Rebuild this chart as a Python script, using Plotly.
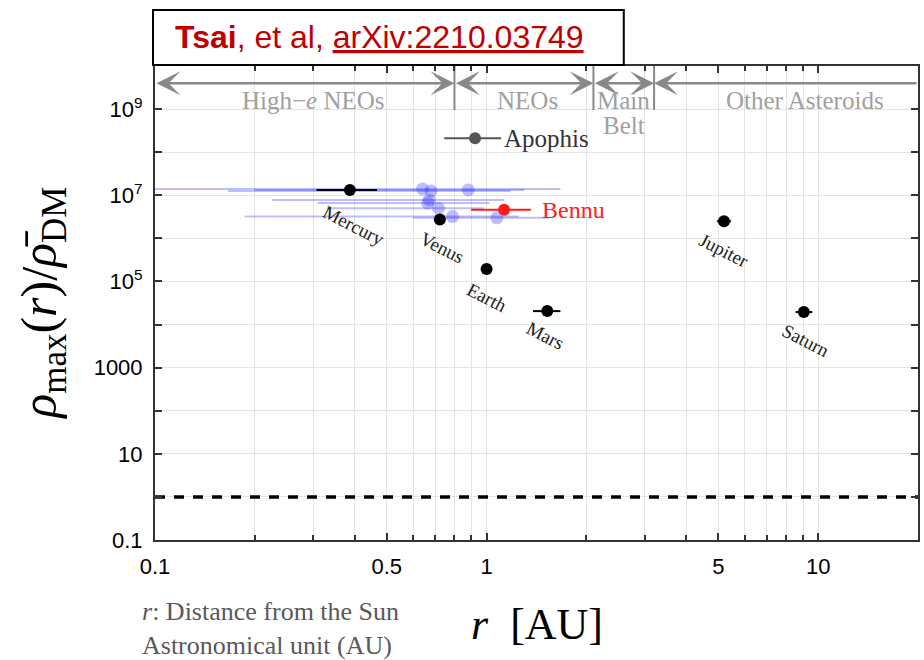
import numpy as np
import plotly.graph_objects as go

# ---------------- data ----------------
planet_names = ["Mercury", "Venus", "Earth", "Mars", "Jupiter", "Saturn"]
planet_r = [0.387, 0.723, 1.0, 1.524, 5.2, 9.05]
planet_r_min = [0.307, 0.718, 0.983, 1.38, 4.95, 8.55]
planet_r_max = [0.467, 0.728, 1.017, 1.67, 5.46, 9.6]
planet_rho = [1.32e7, 2.75e6, 1.95e5, 2.05e4, 2.5e6, 1.95e4]

neo_r = [0.641, 0.680, 0.880, 0.672, 0.664, 0.716, 0.789, 1.074]
neo_r_min = [0.09, 0.166, 0.20, 0.226, 0.309, 0.33, 0.186, 0.60]
neo_r_max = [1.67, 1.18, 1.30, 1.13, 1.02, 0.98, 1.25, 1.55]
neo_rho = [1.4e7, 1.26e7, 1.33e7, 7.8e6, 6.6e6, 5.0e6, 3.2e6, 3.0e6]

named_names = ["Bennu", "Apophis"]
named_r = [1.129, 0.923]
named_r_min = [0.898, 0.745]
named_r_max = [1.36, 1.106]
named_rho = [4.6e6, 2.1e8]

region_names = ["High\u2212<i>e</i> NEOs", "NEOs", "Main", "Other Asteroids"]
region_sublabels = ["", "", "Belt", ""]
region_edges = [0.1, 0.8, 2.1, 3.2, 20.0]
region_label_r = [0.30, 1.33, 2.59, 9.1]

dm_threshold = 1.0

x_tickvals = [0.1, 0.5, 1, 5, 10]
x_ticktext = ["0.1", "0.5", "1", "5", "10"]
x_minor = [0.2, 0.3, 0.4, 0.6, 0.7, 0.8, 0.9, 2, 3, 4, 6, 7, 8, 9, 20]
y_tickvals = [0.1, 10, 1e3, 1e5, 1e7, 1e9]
y_ticktext = ["0.1", "10", "1000", "10<sup>5</sup>", "10<sup>7</sup>", "10<sup>9</sup>"]
y_minor = [1, 100, 1e4, 1e6, 1e8, 1e10]

# ---------------- styles ----------------
SERIF = "Liberation Serif"
SANS = "Liberation Sans"
X_RANGE = [-1, np.log10(20.0)]
Y_RANGE = [-1, 10]
label_dx = [4, 2, 0, -2, 0, 2]
label_dy = [35, 28, 29, 24, 29, 28]
named_colors = ["#ff1a1a", "#555555"]
named_text_colors = ["#ff2020", "#333333"]
named_dx = [36, 27]
named_size = [24, 25]
arrow_y = 9.6          # log10 position of region arrows
region_label_y = 9.19
region_sublabel_y = 8.63

fig = go.Figure()

# dashed threshold line
fig.add_trace(go.Scatter(
    x=[region_edges[0], region_edges[-1]], y=[dm_threshold, dm_threshold],
    mode="lines", line=dict(color="black", width=3.5, dash="10px,9px"),
    hoverinfo="skip", showlegend=False))

# region boundaries
for e in region_edges[1:-1]:
    fig.add_trace(go.Scatter(
        x=[e, e], y=[10 ** 8.98, 10 ** 10], mode="lines",
        line=dict(color="#888888", width=2), hoverinfo="skip", showlegend=False))

# blue NEOs
fig.add_trace(go.Scatter(
    x=neo_r, y=neo_rho, mode="markers",
    marker=dict(color="rgba(40,40,255,0.3)", size=13, line=dict(width=0)),
    error_x=dict(type="data", symmetric=False,
                 array=[hi - r for hi, r in zip(neo_r_max, neo_r)],
                 arrayminus=[r - lo for lo, r in zip(neo_r_min, neo_r)],
                 color="rgba(40,40,255,0.3)", thickness=2, width=0),
    showlegend=False))

# named asteroids
for i in range(len(named_names)):
    fig.add_trace(go.Scatter(
        x=[named_r[i]], y=[named_rho[i]], mode="markers",
        marker=dict(color=named_colors[i], size=12),
        error_x=dict(type="data", symmetric=False,
                     array=[named_r_max[i] - named_r[i]],
                     arrayminus=[named_r[i] - named_r_min[i]],
                     color=named_colors[i], thickness=2, width=0),
        showlegend=False))
    fig.add_annotation(x=np.log10(named_r[i]), y=np.log10(named_rho[i]),
                       text=named_names[i], showarrow=False, xanchor="left",
                       yanchor="middle", xshift=named_dx[i],
                       font=dict(family=SERIF, size=named_size[i], color=named_text_colors[i]))

# planets
fig.add_trace(go.Scatter(
    x=planet_r, y=planet_rho, mode="markers",
    marker=dict(color="black", size=12),
    error_x=dict(type="data", symmetric=False,
                 array=[hi - r for hi, r in zip(planet_r_max, planet_r)],
                 arrayminus=[r - lo for lo, r in zip(planet_r_min, planet_r)],
                 color="black", thickness=2, width=0),
    showlegend=False))
for i, n in enumerate(planet_names):
    fig.add_annotation(x=np.log10(planet_r[i]), y=np.log10(planet_rho[i]),
                       text=n, showarrow=False, textangle=27,
                       xanchor="center", yanchor="middle",
                       xshift=label_dx[i], yshift=-label_dy[i],
                       font=dict(family=SERIF, size=19, color="#222222"))

# region arrows and labels
for i in range(len(region_names)):
    lo, hi = region_edges[i], region_edges[i + 1]
    last = i == len(region_names) - 1
    if last:
        fig.add_annotation(x=np.log10(lo), y=arrow_y, ax=np.log10(hi), ay=arrow_y,
                           xref="x", yref="y", axref="x", ayref="y", text="",
                           showarrow=True, arrowhead=3, arrowsize=1.6,
                           arrowwidth=2.5, arrowcolor="#888888", arrowside="end")
    else:
        fig.add_annotation(x=np.log10(hi), y=arrow_y, ax=np.log10(lo), ay=arrow_y,
                           xref="x", yref="y", axref="x", ayref="y", text="",
                           showarrow=True, arrowhead=3, arrowsize=1.6,
                           startarrowhead=3, startarrowsize=1.6,
                           arrowwidth=2.5, arrowcolor="#888888",
                           arrowside="end+start")
    fig.add_annotation(x=np.log10(region_label_r[i]), y=region_label_y,
                       text=region_names[i], showarrow=False,
                       xanchor="center", yanchor="middle",
                       font=dict(family=SERIF, size=25, color="#a0a0a0"))
    if region_sublabels[i]:
        fig.add_annotation(x=np.log10(region_label_r[i]), y=region_sublabel_y,
                           text=region_sublabels[i], showarrow=False,
                           xanchor="center", yanchor="middle",
                           font=dict(family=SERIF, size=25, color="#a0a0a0"))

# banner
fig.add_shape(type="rect", xref="paper", yref="paper",
              x0=-0.0026, x1=0.6144, y0=1.0021, y1=1.118,
              line=dict(color="black", width=2), fillcolor="white", layer="above")
fig.add_annotation(xref="paper", yref="paper", x=0.0235, y=1.061,
                   xanchor="left", yanchor="middle", showarrow=False,
                   text="<b>Tsai</b>, et al, <u>arXiv:2210.03749</u>",
                   font=dict(family=SANS, size=32, color="#c00000"))

# axis titles
fig.add_annotation(xref="paper", yref="paper", x=-0.147, y=0.5,
                   textangle=-90, showarrow=False, xanchor="center", yanchor="middle",
                   text="<i>\u03c1</i><sub>max</sub>(<i>r</i>)/<i>\u03c1\u0304</i><sub>DM</sub>",
                   font=dict(family=SERIF, size=50, color="black"))
fig.add_annotation(xref="paper", yref="paper", x=0.5, y=-0.179,
                   showarrow=False, xanchor="center", yanchor="middle",
                   text="<i>r</i>\u2002[AU]",
                   font=dict(family=SERIF, size=44, color="black"))
fig.add_annotation(xref="paper", yref="paper", x=-0.0196, y=-0.186,
                   showarrow=False, xanchor="left", yanchor="middle", align="left",
                   text="<i>r</i>: Distance from the Sun<br>Astronomical unit (AU)",
                   font=dict(family=SERIF, size=26, color="#595959"))

axis_common = dict(showline=True, linecolor="#333333", linewidth=2, mirror="ticks",
                   ticks="inside", ticklen=7, tickwidth=1.5, tickcolor="#333333",
                   showgrid=True, gridcolor="#e4e4e4", gridwidth=1, zeroline=False)

fig.update_xaxes(type="log", range=X_RANGE, tickvals=x_tickvals, ticktext=x_ticktext,
                 tickfont=dict(family=SANS, size=22, color="black"),
                 ticklabelstandoff=6,
                 minor=dict(tickvals=x_minor, ticks="inside", ticklen=5,
                            tickcolor="#333333", showgrid=True, gridcolor="#e4e4e4"),
                 **axis_common)
fig.update_yaxes(type="log", range=Y_RANGE, tickvals=y_tickvals, ticktext=y_ticktext,
                 tickfont=dict(family=SANS, size=22, color="black"),
                 ticklabelstandoff=6,
                 minor=dict(tickvals=y_minor, ticks="inside", ticklen=7,
                            tickcolor="#333333", showgrid=True, gridcolor="#e4e4e4"),
                 **axis_common)

fig.update_layout(width=924, height=660, plot_bgcolor="white", paper_bgcolor="white",
                  margin=dict(l=155, r=4, t=66, b=120), showlegend=False)

fig.write_html("out.html")
